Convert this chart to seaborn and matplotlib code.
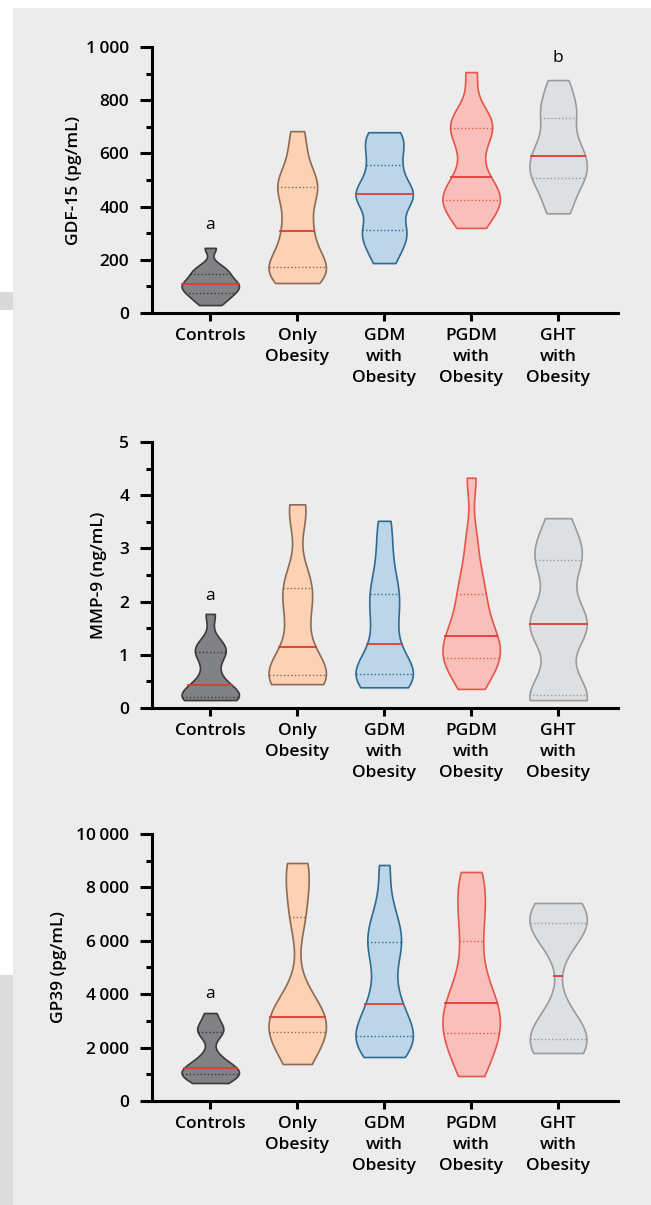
import numpy as np
import pandas as pd
import matplotlib
matplotlib.use("Agg")
import matplotlib.pyplot as plt
from matplotlib.patches import Rectangle
from matplotlib.ticker import MultipleLocator
import seaborn as sns

# groups on the x axis
groups = ["Controls", "Only\nObesity", "GDM\nwith\nObesity",
          "PGDM\nwith\nObesity", "GHT\nwith\nObesity"]

# GDF-15 (pg/mL), values
gdf_controls = [30, 48, 66, 74, 86, 96, 104, 112, 120, 135, 150, 160, 180, 245]
gdf_only_ob = [113, 130, 150, 165, 175, 200, 240, 290, 330, 380, 450, 470, 490, 520, 600, 684]
gdf_gdm = [188, 240, 290, 305, 320, 400, 430, 448, 455, 470, 540, 570, 630, 660, 680]
gdf_pgdm = [320, 360, 400, 420, 440, 455, 480, 540, 620, 680, 700, 720, 760, 906]
gdf_ght = [375, 420, 480, 505, 520, 560, 580, 600, 640, 680, 750, 760, 820, 876]

# MMP-9 (ng/mL)
mmp_controls = [0.15, 0.16, 0.18, 0.2, 0.25, 0.35, 0.43, 0.6, 0.9, 1.05, 1.15, 1.2, 1.77]
mmp_only_ob = [0.45, 0.5, 0.55, 0.6, 0.65, 0.75, 0.9, 1.4, 1.8, 2.1, 2.3, 2.5, 3.6, 3.83]
mmp_gdm = [0.39, 0.45, 0.55, 0.62, 0.7, 0.8, 1.0, 1.4, 1.7, 2.0, 2.2, 2.5, 3.0, 3.52]
mmp_pgdm = [0.36, 0.6, 0.8, 0.9, 1.0, 1.1, 1.25, 1.35, 1.5, 1.8, 2.0, 2.3, 2.6, 3.2, 4.33]
mmp_ght = [0.15, 0.16, 0.2, 0.25, 1.45, 1.55, 1.6, 1.7, 2.75, 2.85, 2.95, 3.57]

# GP39 (pg/mL)
gp_controls = [674, 800, 950, 1010, 1100, 1150, 1230, 1400, 1700, 2580, 2600, 2800, 3295]
gp_only_ob = [1386, 1800, 2200, 2500, 2600, 2800, 3000, 3100, 3200, 3500, 3900, 6800, 7200, 8400, 8700, 8913]
gp_gdm = [1648, 1900, 2200, 2350, 2500, 2700, 3200, 3633, 4200, 5200, 5800, 6100, 6500, 7300, 8838]
gp_pgdm = [936, 1500, 2000, 2400, 2700, 3000, 3300, 3670, 4000, 4600, 5500, 6500, 7200, 8000, 8577]
gp_ght = [1798, 2100, 2300, 2450, 2900, 6460, 6600, 6700, 6900, 7415]

# axis ticks
gdf_ticks = [0, 200, 400, 600, 800, 1000]
gdf_ticklabels = ["0", "200", "400", "600", "800", "1\u2009000"]
mmp_ticks = [0, 1, 2, 3, 4, 5]
mmp_ticklabels = ["0", "1", "2", "3", "4", "5"]
gp_ticks = [0, 2000, 4000, 6000, 8000, 10000]
gp_ticklabels = ["0", "2\u2009000", "4\u2009000", "6\u2009000", "8\u2009000", "10\u2009000"]

# significance letters (group index, height)
gdf_letters = [("a", 0, 330), ("b", 4, 960)]
mmp_letters = [("a", 0, 2.1)]
gp_letters = [("a", 0, 4000)]

fill_colors = ["#808285", "#fdd1b3", "#bcd5e8", "#f9c0bb", "#dde0e3"]
edge_colors = ["#3a3a3a", "#8c6b55", "#2e6b92", "#e8554a", "#9b9b9b"]
median_color = "#e03c31"
bg = "#ececec"
FS = 12.5

plt.rcParams["font.family"] = ["Open Sans", "DejaVu Sans"]


def long_frame(series):
    rows = []
    for g, vals in zip(groups, series):
        for v in vals:
            rows.append((g, v))
    return pd.DataFrame(rows, columns=["group", "value"])


def draw_panel(ax, series, ylabel, ticks, ticklabels, letters, label_x):
    df = long_frame(series)
    sns.violinplot(data=df, x="group", y="value", hue="group", order=groups,
                   hue_order=groups, palette=fill_colors, cut=0,
                   density_norm="width", width=0.66, inner="quart",
                   bw_adjust=0.6, linewidth=1.2, saturation=1,
                   legend=False, ax=ax)
    for coll, ec in zip(ax.collections, edge_colors):
        coll.set_edgecolor(ec)
        coll.set_linewidth(1.2)
    for k, ln in enumerate(ax.lines):
        grp = k // 3
        if k % 3 == 1:
            ln.set_color(median_color)
            ln.set_linestyle("-")
            ln.set_linewidth(1.3)
        else:
            ln.set_color(edge_colors[grp])
            ln.set_linestyle((0, (1, 1.6)))
            ln.set_linewidth(1.0)

    ax.set_facecolor("none")
    ax.set_xlim(-0.67, 4.69)
    ax.set_ylim(ticks[0], ticks[-1])
    ax.set_yticks(ticks)
    ax.set_yticklabels(ticklabels)
    ax.yaxis.set_minor_locator(MultipleLocator((ticks[1] - ticks[0]) / 2))
    ax.set_xlabel("")
    ax.set_ylabel(ylabel, fontsize=FS, fontweight="semibold")
    ax.yaxis.set_label_coords(label_x, 0.5)
    for side in ["top", "right"]:
        ax.spines[side].set_visible(False)
    for side in ["left", "bottom"]:
        ax.spines[side].set_linewidth(2.2)
        ax.spines[side].set_color("black")
    ax.tick_params(axis="y", which="major", length=8.5, width=2.2, pad=8,
                   labelsize=FS)
    ax.tick_params(axis="y", which="minor", length=4.5, width=2.2)
    ax.tick_params(axis="x", which="major", length=6, width=2.2, pad=5,
                   labelsize=FS)
    for lab in ax.get_xticklabels() + ax.get_yticklabels():
        lab.set_fontweight("semibold")
    for lab in ax.get_xticklabels():
        lab.set_linespacing(1.4)
    for txt, gi, yv in letters:
        ax.text(gi, yv, txt, ha="center", va="center", fontsize=FS)


fig = plt.figure(figsize=(6.51, 12.05), dpi=100, facecolor=bg)
W, H = 651, 1205
# page background: white top and left margins
fig.add_artist(Rectangle((0, 1 - 8 / H), 1, 8 / H, transform=fig.transFigure,
                         facecolor="white", edgecolor="none"))
fig.add_artist(Rectangle((0, 0), 13 / W, 1, transform=fig.transFigure,
                         facecolor="white", edgecolor="none"))
fig.add_artist(Rectangle((0, 1 - 310 / H), 13 / W, 18 / H, transform=fig.transFigure,
                         facecolor="#d9d9d9", edgecolor="none"))
fig.add_artist(Rectangle((0, 0), 13 / W, 1 - 975 / H, transform=fig.transFigure,
                         facecolor="#dcdcdc", edgecolor="none"))

ax1 = fig.add_axes([0.2335, 0.7402, 0.716, 0.2207])
ax2 = fig.add_axes([0.2335, 0.4124, 0.716, 0.2207])
ax3 = fig.add_axes([0.2335, 0.0863, 0.716, 0.2216])

draw_panel(ax1, [gdf_controls, gdf_only_ob, gdf_gdm, gdf_pgdm, gdf_ght],
           "GDF-15 (pg/mL)", gdf_ticks, gdf_ticklabels, gdf_letters, -0.150)
draw_panel(ax2, [mmp_controls, mmp_only_ob, mmp_gdm, mmp_pgdm, mmp_ght],
           "MMP-9 (ng/mL)", mmp_ticks, mmp_ticklabels, mmp_letters, -0.097)
draw_panel(ax3, [gp_controls, gp_only_ob, gp_gdm, gp_pgdm, gp_ght],
           "GP39 (pg/mL)", gp_ticks, gp_ticklabels, gp_letters, -0.182)

fig.savefig("out.png", dpi=100, facecolor=bg)
